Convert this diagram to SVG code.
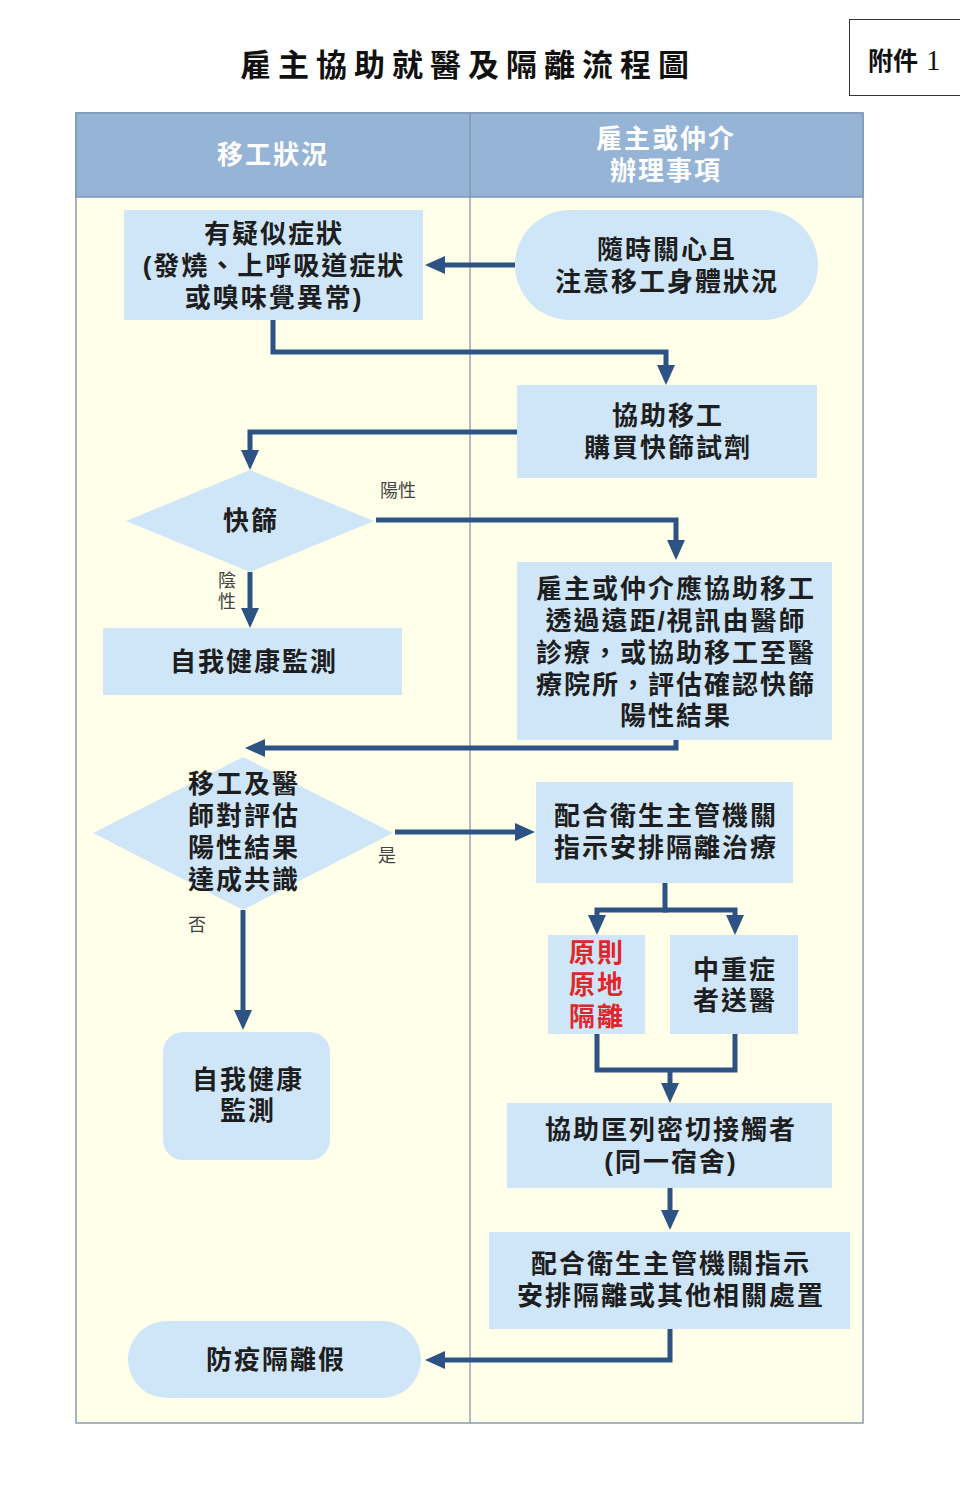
<svg xmlns="http://www.w3.org/2000/svg" width="960" height="1485" viewBox="0 0 960 1485">
<defs>
<style>
.node{fill:#CFE6F8;}
.t{font-family:"Liberation Sans","Noto Sans CJK TC","Noto Sans CJK SC",sans-serif;font-size:26px;font-weight:700;fill:#1E1E1E;text-anchor:middle;letter-spacing:2px;}
.red{fill:#E0262B;}
.hd{font-family:"Liberation Sans","Noto Sans CJK TC","Noto Sans CJK SC",sans-serif;font-size:26px;font-weight:700;fill:#FFFFFF;text-anchor:middle;letter-spacing:2px;}
.lb{font-family:"Liberation Sans","Noto Sans CJK TC","Noto Sans CJK SC",sans-serif;font-size:18px;fill:#444;text-anchor:middle;}
.c{fill:none;stroke:#2D5384;stroke-width:5;stroke-linejoin:miter;marker-end:url(#ah);}
.cn{fill:none;stroke:#2D5384;stroke-width:5;stroke-linejoin:miter;}
</style>
<marker id="ah" markerUnits="userSpaceOnUse" markerWidth="20" markerHeight="20" viewBox="0 0 20 20" refX="4" refY="10" orient="auto">
<path d="M0,1 L20,10 L0,19 z" fill="#2D5384"/>
</marker>
</defs>
<rect width="960" height="1485" fill="#FFFFFF"/>
<g id="title">
<text x="468" y="76" font-family="'Noto Sans CJK TC','Noto Sans CJK SC',serif" font-size="31" font-weight="700" fill="#111" text-anchor="middle" letter-spacing="7">雇主協助就醫及隔離流程圖</text>
</g>
<g id="attachment">
<rect x="849.5" y="19.5" width="120" height="76" fill="#FFFFFF" stroke="#333" stroke-width="1"/>
<text x="868" y="70" font-family="'Noto Sans CJK TC','Noto Sans CJK SC',serif" font-size="25" font-weight="700" fill="#111">附件<tspan font-family="'Liberation Serif',serif" font-weight="400" font-size="29" dx="8">1</tspan></text>
</g>
<g id="table">
<rect x="76" y="113" width="787" height="1310" fill="#FFFFEA" stroke="#8A9BB0" stroke-width="1.5"/>
<rect x="76" y="113" width="787" height="84" fill="#96B4D6" stroke="#7E98B8" stroke-width="1.5"/>
<line x1="470" y1="113" x2="470" y2="1423" stroke="#7E90A8" stroke-width="1.2"/>
<text class="hd" x="273" y="164">移工狀況</text>
<text class="hd" x="666" y="148">雇主或仲介<tspan x="666" dy="32">辦理事項</tspan></text>
</g>
<g id="connectors">
<path class="c" d="M515,265 H441"/>
<path class="c" d="M273,320 V352 H666 V369"/>
<path class="c" d="M517,432 H250 V454"/>
<path class="c" d="M376,520 H676 V544"/>
<path class="c" d="M250,572 V612"/>
<path class="c" d="M676,740 V748 H261"/>
<path class="c" d="M395,832 H519"/>
<path class="c" d="M665,883 V910 H597 V919"/>
<path class="c" d="M663,910 H735 V919"/>
<path class="cn" d="M597,1034 V1070 H735 V1034"/>
<path class="c" d="M670,1068 V1087"/>
<path class="c" d="M243,910 V1014"/>
<path class="c" d="M670,1188 V1214"/>
<path class="c" d="M670,1329 V1360 H441"/>
<text class="lb" x="398" y="497">陽性</text>
<text class="lb" x="227" y="587">陰<tspan x="227" dy="21">性</tspan></text>
<text class="lb" x="387" y="862">是</text>
<text class="lb" x="197" y="931">否</text>
</g>
<g id="n1">
<rect class="node" x="124" y="210" width="299" height="110"/>
<text class="t" x="274" y="243">有疑似症狀<tspan x="274" dy="32">(發燒、上呼吸道症狀</tspan><tspan x="274" dy="32">或嗅味覺異常)</tspan></text>
</g>
<g id="n2">
<rect class="node" x="515" y="210" width="303" height="110" rx="55"/>
<text class="t" x="667" y="259">隨時關心且<tspan x="667" dy="32">注意移工身體狀況</tspan></text>
</g>
<g id="n3">
<rect class="node" x="517" y="385" width="300" height="93"/>
<text class="t" x="668" y="425">協助移工<tspan x="668" dy="32">購買快篩試劑</tspan></text>
</g>
<g id="n4">
<polygon class="node" points="250,470 374,521 250,572 126,521"/>
<text class="t" x="251" y="530">快篩</text>
</g>
<g id="n5">
<rect class="node" x="517" y="562" width="315" height="178"/>
<text class="t" x="676" y="598">雇主或仲介應協助移工<tspan x="676" dy="32">透過遠距/視訊由醫師</tspan><tspan x="676" dy="32">診療，或協助移工至醫</tspan><tspan x="676" dy="32">療院所，評估確認快篩</tspan><tspan x="676" dy="31">陽性結果</tspan></text>
</g>
<g id="n6">
<rect class="node" x="103" y="628" width="299" height="67"/>
<text class="t" x="254" y="671">自我健康監測</text>
</g>
<g id="n7">
<polygon class="node" points="243,757 393,833 243,910 93,833"/>
<text class="t" x="244" y="793">移工及醫<tspan x="244" dy="32">師對評估</tspan><tspan x="244" dy="32">陽性結果</tspan><tspan x="244" dy="32">達成共識</tspan></text>
</g>
<g id="n8">
<rect class="node" x="536" y="782" width="257" height="101"/>
<text class="t" x="666" y="825">配合衛生主管機關<tspan x="666" dy="32">指示安排隔離治療</tspan></text>
</g>
<g id="n9">
<rect class="node" x="548" y="935" width="97" height="99"/>
<text class="t red" x="597" y="962">原則<tspan x="597" dy="32">原地</tspan><tspan x="597" dy="32">隔離</tspan></text>
</g>
<g id="n10">
<rect class="node" x="670" y="935" width="128" height="99"/>
<text class="t" x="735" y="979">中重症<tspan x="735" dy="31">者送醫</tspan></text>
</g>
<g id="n11">
<rect class="node" x="163" y="1032" width="167" height="128" rx="20"/>
<text class="t" x="248" y="1089">自我健康<tspan x="248" dy="31">監測</tspan></text>
</g>
<g id="n12">
<rect class="node" x="507" y="1103" width="325" height="85"/>
<text class="t" x="671" y="1139">協助匡列密切接觸者<tspan x="671" dy="32">(同一宿舍)</tspan></text>
</g>
<g id="n13">
<rect class="node" x="489" y="1232" width="361" height="97"/>
<text class="t" x="671" y="1273">配合衛生主管機關指示<tspan x="671" dy="32">安排隔離或其他相關處置</tspan></text>
</g>
<g id="n14">
<rect class="node" x="128" y="1321" width="293" height="77" rx="38.5"/>
<text class="t" x="276" y="1369">防疫隔離假</text>
</g>
</svg>
